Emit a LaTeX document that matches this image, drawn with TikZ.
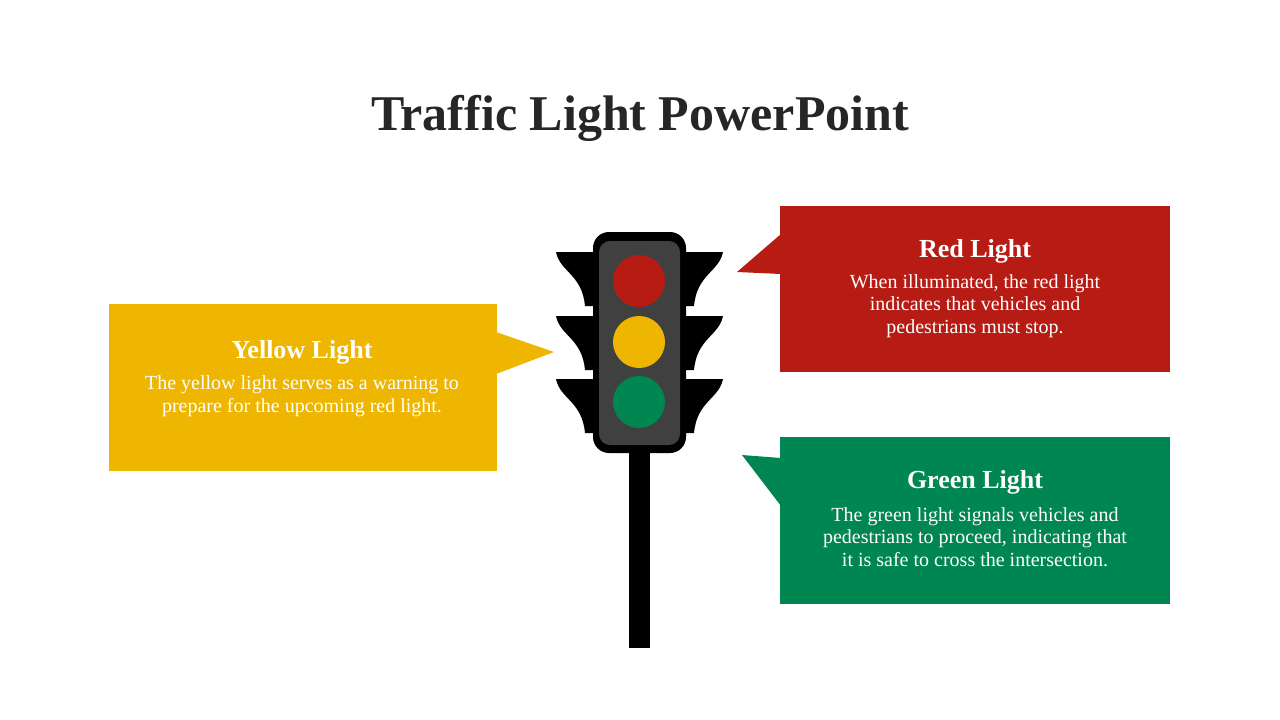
\documentclass[tikz,border=0pt]{standalone}
\usepackage{fontspec}
\setmainfont{Liberation Serif}
\begin{document}
\begin{tikzpicture}[x=1pt,y=-1pt,
  visor/.style={fill=black},
  head/.style={font=\fontsize{26}{30}\selectfont\bfseries,text=white},
  body/.style={font=\fontsize{20}{22.5}\selectfont,text=white,align=center}]
\definecolor{cred}{HTML}{B71C14}
\definecolor{cyel}{HTML}{EEB600}
\definecolor{cgrn}{HTML}{008650}
\definecolor{cgray}{HTML}{404040}
\definecolor{ctitle}{HTML}{262626}
\useasboundingbox (0,0) rectangle (1280,720);
\node[font=\fontsize{50}{56}\selectfont\bfseries,text=ctitle] (title) at (640,118) {Traffic Light PowerPoint};
% pole
\fill (629,450) rectangle (650,648);
% visors
\foreach \y in {252,316,379}{
  \fill (593,\y) -- (556,\y) .. controls (560,\y+20) and (582,\y+22) .. (585,\y+54) -- (593,\y+54) -- cycle;
  \fill (686,\y) -- (723,\y) .. controls (719,\y+20) and (697,\y+22) .. (694,\y+54) -- (686,\y+54) -- cycle;
}
\fill[rounded corners=16] (593,232) rectangle (686,453);
\fill[cgray,rounded corners=11] (599,241) rectangle (680,445);
\fill[cred] (639,281) circle (26);
\fill[cyel] (639,342) circle (26);
\fill[cgrn] (639,402) circle (26);
% callouts
\fill[cred] (780,206) rectangle (1170,372);
\fill[cred] (781,234) -- (737,272) -- (781,274) -- cycle;
\fill[cyel] (109,304) rectangle (497,471);
\fill[cyel] (496,332) -- (554,352) -- (496,374) -- cycle;
\fill[cgrn] (780,437) rectangle (1170,604);
\fill[cgrn] (781,458) -- (742,455) -- (781,506) -- cycle;
\node[head] (rh) at (975,251) {Red Light};
\node[body] (rb) at (975,306) {When illuminated, the red light\\indicates that vehicles and\\pedestrians must stop.};
\node[head] (yh) at (302,352) {Yellow Light};
\node[body] (yb) at (302,396) {The yellow light serves as a warning to\\prepare for the upcoming red light.};
\node[head] (gh) at (975,482) {Green Light};
\node[body] (gb) at (975,537) {The green light signals vehicles and\\pedestrians to proceed, indicating that\\it is safe to cross the intersection.};
\end{tikzpicture}
\end{document}
